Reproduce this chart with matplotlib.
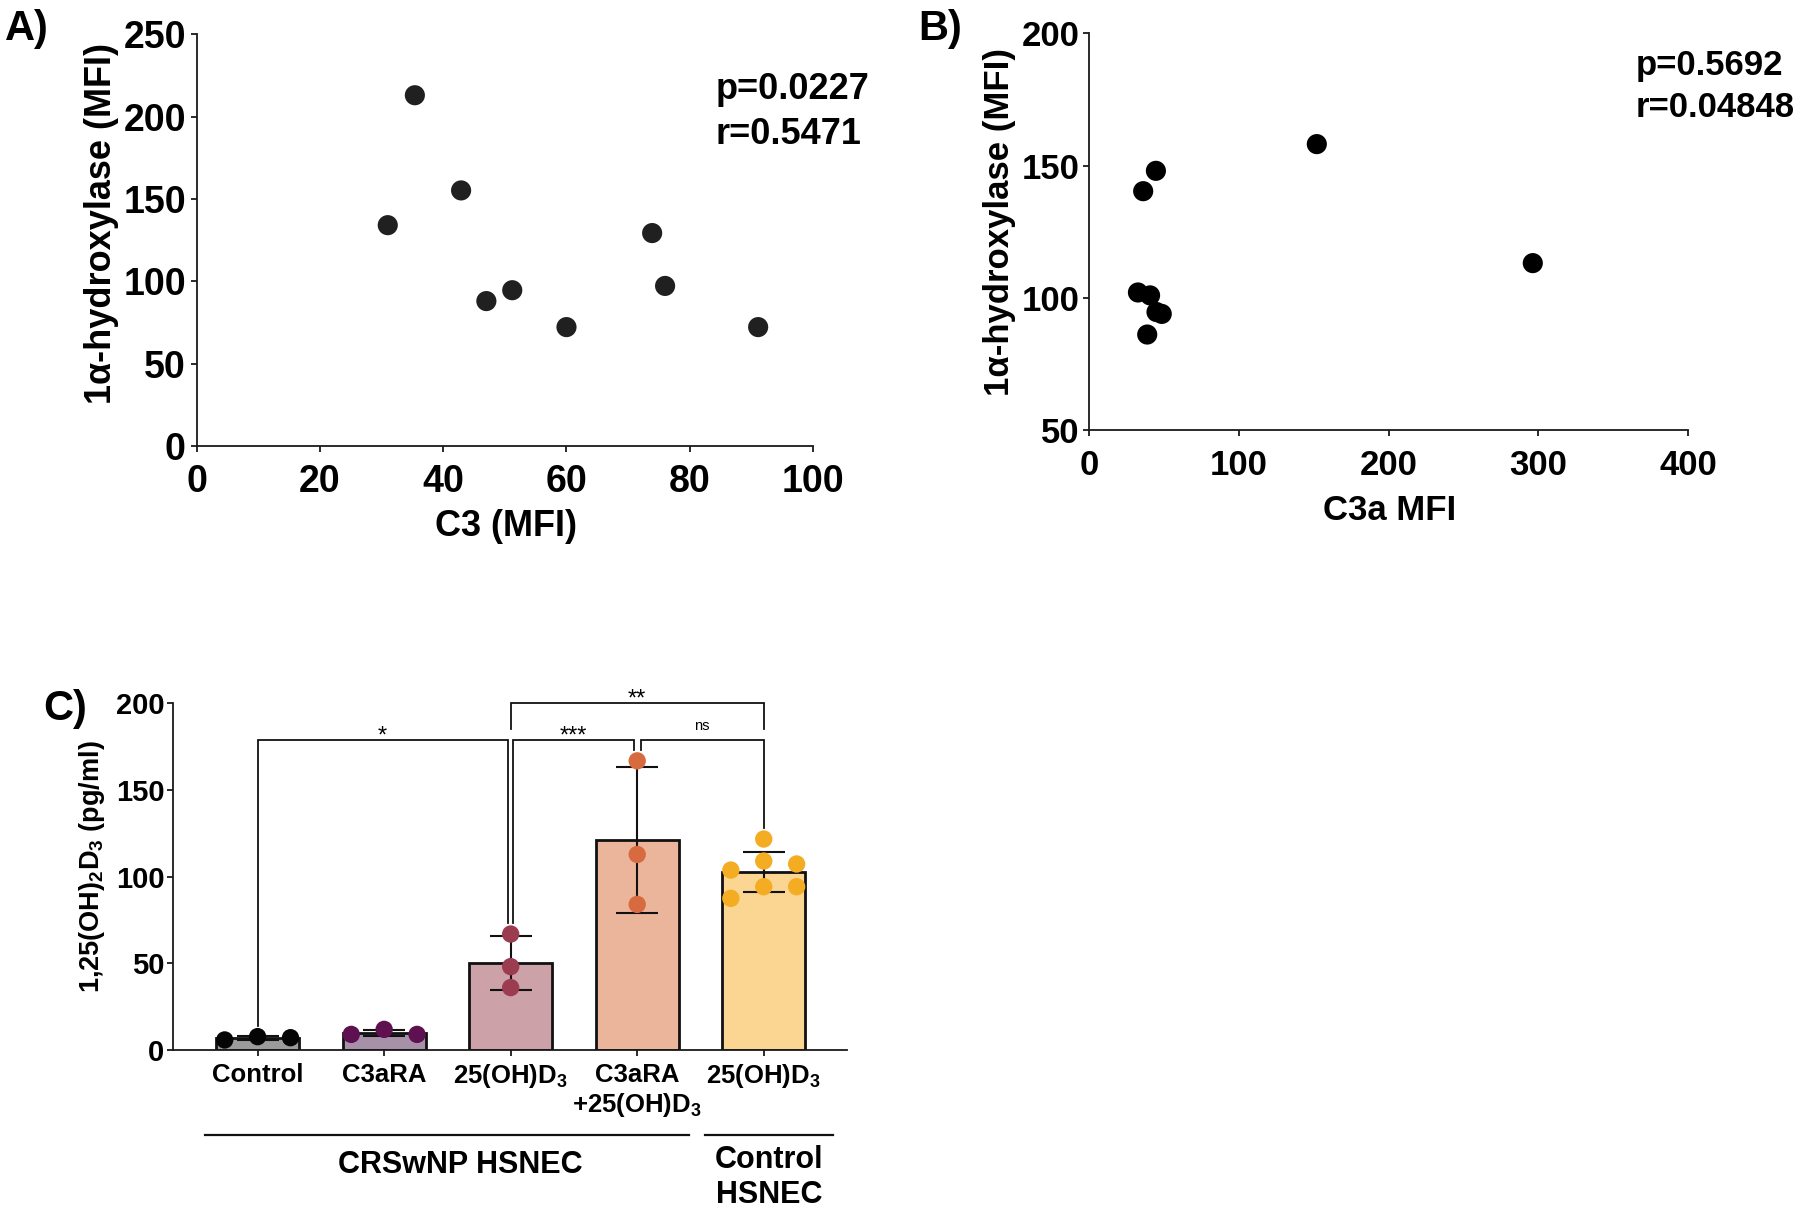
import numpy as np
import matplotlib
matplotlib.use("Agg")
import matplotlib.pyplot as plt
from matplotlib.lines import Line2D

plt.rcParams['font.family'] = ['Liberation Sans', 'DejaVu Sans']
plt.rcParams['font.weight'] = 'bold'
plt.rcParams['mathtext.fontset'] = 'custom'
plt.rcParams['mathtext.rm'] = 'Liberation Sans'
plt.rcParams['mathtext.bf'] = 'Liberation Sans:bold'
plt.rcParams['mathtext.it'] = 'Liberation Sans:italic'

# ---------------- data ----------------
# Panel A: C3 (MFI) vs 1a-hydroxylase (MFI)
a_c3 = [35.4, 31.0, 42.9, 47.0, 51.2, 60.0, 73.9, 76.0, 91.1]
a_hyd = [213.0, 134.1, 155.2, 88.0, 94.6, 72.2, 129.3, 97.2, 72.2]
a_stats = ["p=0.0227", "r=0.5471"]

# Panel B: C3a MFI vs 1a-hydroxylase (MFI)
b_c3a = [152.0, 44.5, 36.0, 296.3, 32.5, 40.6, 44.9, 48.4, 38.7]
b_hyd = [158.1, 148.0, 140.3, 113.1, 102.0, 100.9, 94.6, 93.9, 86.1]
b_stats = ["p=0.5692", "r=0.04848"]

# Panel C: 1,25(OH)2D3 (pg/ml)
c_labels = ['Control', 'C3aRA', r'25(OH)D$_\mathrm{3}$',
            'C3aRA\n+25(OH)D$_\\mathrm{3}$', r'25(OH)D$_\mathrm{3}$']
ctrl_vals = [7.7, 5.8, 7.1]
c3ara_vals = [11.9, 9.0, 9.0]
d3_vals = [66.9, 48.1, 36.0]
c3ara_d3_vals = [166.8, 112.8, 84.0]
ctrl_hsnec_d3_vals = [121.7, 109.0, 94.2, 103.8, 107.3, 94.2, 87.5]
c_groups = [ctrl_vals, c3ara_vals, d3_vals, c3ara_d3_vals, ctrl_hsnec_d3_vals]

bar_colors = ['#9b9b9c', '#a791a9', '#cda1a8', '#ebb59b', '#fbd592']
dot_colors = ['#050505', '#5e1050', '#9c3c50', '#d86a40', '#f4ac22']

# significance brackets: (x_left, x_right, y_bar, left_leg_bottom, right_leg_bottom, label)
brackets = [
    (0.0, 1.976, 178.8, 14.0, 73.0, '*'),
    (2.021, 2.974, 178.8, 73.0, 173.0, '***'),
    (3.027, 4.0, 178.8, 173.0, 128.0, 'ns'),
    (2.0, 4.0, 200.0, 185.0, 185.0, '**'),
]

# ---------------- layout helpers ----------------
W, H = 1800, 1210
fig = plt.figure(figsize=(W / 100, H / 100), dpi=100)


def fx(px):
    return px / W


def fy(py):
    return 1 - py / H


def axes_px(l, t, r, b):
    return fig.add_axes([fx(l), fy(b), (r - l) / W, (b - t) / H])


def style_axes(ax, lw=1.3):
    for s in ['top', 'right']:
        ax.spines[s].set_visible(False)
    for s in ['left', 'bottom']:
        ax.spines[s].set_linewidth(lw)
        ax.spines[s].set_color('#1a1a1a')


# ---------------- Panel A ----------------
axA = axes_px(196.7, 34.3, 813, 446)
axA.scatter(a_c3, a_hyd, s=14.5 ** 2, color='#202020', edgecolors='none', zorder=3, clip_on=False)
axA.set_xlim(0, 100)
axA.set_ylim(0, 250)
axA.set_xticks(np.arange(0, 101, 20))
axA.set_yticks(np.arange(0, 251, 50))
style_axes(axA)
axA.tick_params(axis='both', labelsize=27, length=4.3, width=1.3, color='#1a1a1a')
axA.tick_params(axis='x', pad=8.5)
axA.tick_params(axis='y', pad=3.5)
for t in axA.get_xticklabels() + axA.get_yticklabels():
    t.set_fontweight('bold')
fig.text(fx(102), fy(224), '1α-hydroxylase (MFI)', rotation=90, ha='center', va='center',
         rotation_mode='anchor', fontsize=26, fontweight='bold')
fig.text(fx(506), fy(536), 'C3 (MFI)', ha='center', va='baseline', fontsize=26, fontweight='bold')
fig.text(fx(715.5), fy(99), a_stats[0], ha='left', va='baseline', fontsize=26, fontweight='bold')
fig.text(fx(715.5), fy(143.5), a_stats[1], ha='left', va='baseline', fontsize=26, fontweight='bold')
fig.text(fx(5), fy(40), 'A)', ha='left', va='baseline', fontsize=30, fontweight='bold')

# ---------------- Panel B ----------------
axB = axes_px(1089.3, 33.3, 1688, 430)
axB.scatter(b_c3a, b_hyd, s=14.5 ** 2, color='black', edgecolors='none', zorder=3, clip_on=False)
axB.set_xlim(0, 400)
axB.set_ylim(50, 200)
axB.set_xticks(np.arange(0, 401, 100))
axB.set_yticks(np.arange(50, 201, 50))
style_axes(axB)
axB.tick_params(axis='both', labelsize=25, length=4.3, width=1.3, color='#1a1a1a')
axB.tick_params(axis='x', pad=9.5)
axB.tick_params(axis='y', pad=2.5)
for t in axB.get_xticklabels() + axB.get_yticklabels():
    t.set_fontweight('bold')
fig.text(fx(1000), fy(222), '1α-hydroxylase (MFI)', rotation=90, ha='center', va='center',
         rotation_mode='anchor', fontsize=25, fontweight='bold')
fig.text(fx(1390), fy(520), 'C3a MFI', ha='center', va='baseline', fontsize=25, fontweight='bold')
fig.text(fx(1636), fy(75), b_stats[0], ha='left', va='baseline', fontsize=25, fontweight='bold')
fig.text(fx(1636), fy(116.7), b_stats[1], ha='left', va='baseline', fontsize=25, fontweight='bold')
fig.text(fx(918), fy(40), 'B)', ha='left', va='baseline', fontsize=30, fontweight='bold')

# ---------------- Panel C ----------------
axC = axes_px(172.7, 703.3, 847, 1050)
axC.set_xlim(-0.671, 4.658)
axC.set_ylim(0, 200)
style_axes(axC)
xpos = np.arange(len(c_groups))
means = [np.mean(g) for g in c_groups]
sds = [np.std(g, ddof=1) for g in c_groups]
axC.bar(xpos, means, width=0.655, color=bar_colors, edgecolor='#111111', linewidth=2.0, zorder=2)
axC.errorbar(xpos, means, yerr=sds, fmt='none', ecolor='#111111', elinewidth=1.5,
             capsize=15, capthick=1.5, zorder=3)

dot_ms = 12.5  # points
diam_px = dot_ms * fig.dpi / 72
step = 0.26


def swarm_offsets(ax, x0, vals):
    placed, offs = [], []
    for v in vals:
        chosen = 0.0
        for cand in (0.0, -step, step, -2 * step, 2 * step):
            p = ax.transData.transform((x0 + cand, v))
            if all(np.hypot(*(p - q)) >= 17.8 for q in placed):
                chosen = cand
                break
        placed.append(ax.transData.transform((x0 + chosen, v)))
        offs.append(chosen)
    return offs


for i, g in enumerate(c_groups):
    offs = swarm_offsets(axC, xpos[i], g)
    axC.scatter(xpos[i] + np.array(offs), g, s=dot_ms ** 2, color=dot_colors[i],
                edgecolors='none', zorder=4, clip_on=False)

axC.set_yticks(np.arange(0, 201, 50))
axC.set_xticks(xpos)
axC.set_xticklabels(c_labels)
axC.tick_params(axis='y', labelsize=21, length=4, width=1.3, pad=2, color='#1a1a1a')
axC.tick_params(axis='x', labelsize=18.5, length=4, width=1.3, pad=5, color='#1a1a1a')
for t in axC.get_xticklabels() + axC.get_yticklabels():
    t.set_fontweight('bold')

# brackets
for xl, xr, yb, ll, rl, lab in brackets:
    axC.plot([xl, xl, xr, xr], [ll, yb, yb, rl], color='#111111', lw=1.3, clip_on=False,
             solid_joinstyle='miter', zorder=5)
    xm = (xl + xr) / 2
    if lab == 'ns':
        axC.text(xm, yb + 5.6, lab, ha='center', va='baseline', fontsize=10.5,
                 fontweight='normal', clip_on=False)
    else:
        axC.text(xm, yb - 1.2, lab, ha='center', va='baseline', fontsize=17,
                 fontweight='normal', clip_on=False)

fig.text(fx(92), fy(867), r'1,25(OH)$_\mathbf{2}$D$_\mathbf{3}$ (pg/ml)', rotation=90,
         ha='center', va='center', rotation_mode='anchor', fontsize=19.5, fontweight='bold')
fig.text(fx(43), fy(720), 'C)', ha='left', va='baseline', fontsize=30, fontweight='bold')

# group lines and labels
fig.add_artist(Line2D([fx(204.5), fx(689)], [fy(1135), fy(1135)], color='#111111', lw=1.6))
fig.add_artist(Line2D([fx(705), fx(833)], [fy(1135), fy(1135)], color='#111111', lw=1.6))
fig.text(fx(460), fy(1173), 'CRSwNP HSNEC', ha='center', va='baseline', fontsize=22, fontweight='bold')
fig.text(fx(769), fy(1168), 'Control', ha='center', va='baseline', fontsize=22, fontweight='bold')
fig.text(fx(769), fy(1203), 'HSNEC', ha='center', va='baseline', fontsize=22, fontweight='bold')

fig.savefig('out.png', dpi=100, facecolor='white')
